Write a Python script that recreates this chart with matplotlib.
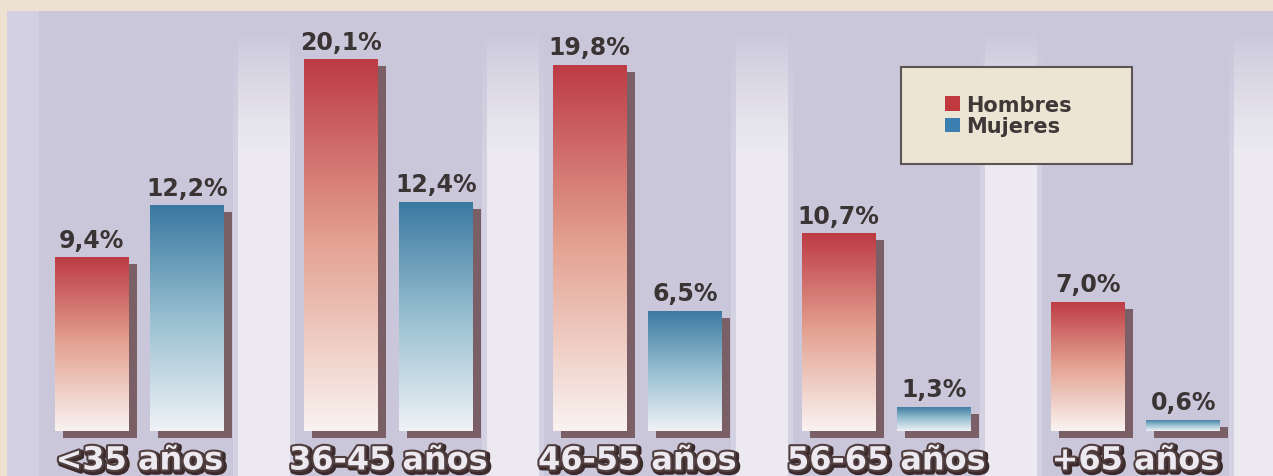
import numpy as np
import matplotlib
matplotlib.use('Agg')
import matplotlib.pyplot as plt
from matplotlib.colors import LinearSegmentedColormap
from matplotlib.patches import Rectangle, Patch
import matplotlib.patheffects as pe

categories = ['<35 años', '36-45 años', '46-55 años', '56-65 años', '+65 años']
hombres = [9.4, 20.1, 19.8, 10.7, 7.0]
mujeres = [12.2, 12.4, 6.5, 1.3, 0.6]
series_names = ['Hombres', 'Mujeres']

red_cm = LinearSegmentedColormap.from_list('r', ['#f9f3f1', '#e4a393', '#bd3b44'])
blue_cm = LinearSegmentedColormap.from_list('b', ['#f0f2f6', '#97bfd0', '#3a78a1'])

fig = plt.figure(figsize=(12.73, 4.77), dpi=100)
fig.patch.set_facecolor('#ece2cf')
ax = fig.add_axes([0, 0, 1, 1])
ax.axis('off')

# lavender panel
ax.add_patch(Rectangle((-0.532, -5), 6, 27.7, facecolor='#cbc7db', edgecolor='none', zorder=0))
# slightly lighter left margin
ax.add_patch(Rectangle((-0.532, -5), 0.13, 27.7, facecolor='#d3d0e1', edgecolor='none', zorder=0.1))

# light bands between groups, fading towards the top
fade_lo, fade_hi, n = 15.2, 21.7, 40
step = (fade_hi - fade_lo) / n
for c in np.arange(0.5, 5.0, 1.0):
    ax.add_patch(Rectangle((c - 0.125, -5), 0.25, 5 + fade_lo, facecolor='#d4d1e2',
                           edgecolor='none', zorder=0.4))
    ax.add_patch(Rectangle((c - 0.105, -5), 0.21, 5 + fade_lo, facecolor='#eceaf0',
                           edgecolor='none', zorder=0.5))
    for k in range(n):
        a = 1 - (k + 0.5) / n
        ax.add_patch(Rectangle((c - 0.125, fade_lo + k * step), 0.25, step,
                               facecolor='#d4d1e2', alpha=a,
                               edgecolor='none', linewidth=0, zorder=0.4))
        ax.add_patch(Rectangle((c - 0.105, fade_lo + k * step), 0.21, step,
                               facecolor='#eceaf0', alpha=a,
                               edgecolor='none', linewidth=0, zorder=0.5))

x = np.arange(len(categories))
w = 0.297
off = 0.192
dx, dy = 0.032, 0.38

grad = np.linspace(0, 1, 256).reshape(-1, 1)
for vals, sign, cm in [(hombres, -1, red_cm), (mujeres, 1, blue_cm)]:
    xs = x + sign * off
    ax.bar(xs + dx, vals, width=w, bottom=-dy, color='#613d40', alpha=0.75, zorder=2)
    bars = ax.bar(xs, vals, width=w, color='none', zorder=3)
    for b, v in zip(bars, vals):
        im = ax.imshow(grad, extent=(b.get_x(), b.get_x() + b.get_width(), 0, v),
                       cmap=cm, aspect='auto', origin='lower', zorder=3)
        im.set_clip_path(b)
        ax.text(b.get_x() + b.get_width() / 2, v + 0.3, f'{v:.1f}'.replace('.', ',') + '%',
                ha='center', va='bottom', fontsize=17, fontweight='bold',
                color='#3a3434', zorder=5)

for xi, cat in zip(x, categories):
    ax.text(xi, -1.62, cat, ha='center', va='center', fontsize=23, fontweight='bold',
            color='#eceaf0', zorder=5,
            path_effects=[pe.Stroke(linewidth=4.5, foreground='#3b2b2c', offset=(1.5, -1.5)),
                          pe.Stroke(linewidth=3, foreground='#524041'),
                          pe.Normal()])

# legend box
ax.add_patch(Rectangle((3.058, 14.43), 0.928, 5.25, facecolor='#ede5d3',
                       edgecolor='#5a5454', linewidth=1.5, zorder=4))
handles = [Patch(facecolor='#c0393f', edgecolor='none'),
           Patch(facecolor='#3a7fb0', edgecolor='none')]
leg = ax.legend(handles, series_names, loc='center', bbox_to_anchor=(3.49, 17.05),
                bbox_transform=ax.transData, frameon=False, handlelength=0.7,
                handleheight=0.7, handletextpad=0.3, labelspacing=0.05,
                prop={'weight': 'bold', 'size': 15})
for t in leg.get_texts():
    t.set_color('#3f3838')
leg.set_zorder(6)

ax.set_xlim(-0.560, 4.552)
ax.set_ylim(-2.43, 23.35)

fig.savefig('out.png', dpi=100, facecolor=fig.get_facecolor())
